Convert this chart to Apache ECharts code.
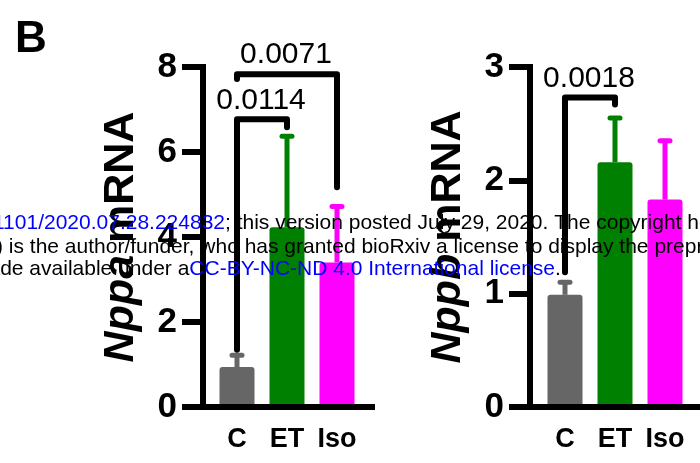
<!DOCTYPE html>
<html>
<head>
<meta charset="utf-8">
<script src="https://cdn.jsdelivr.net/npm/echarts@6/dist/echarts.min.js"></script>
<style>
  html, body { margin: 0; padding: 0; background: #fff; }
  #app { width: 700px; height: 463px; }
</style>
</head>
<body>
<div id="app"></div>
<script>
const FONT = "Liberation Sans, Arial, sans-serif";

// data
const categories = ["C", "ET", "Iso"];
const barColors = ["#666666", "#008000", "#ff00ff"];

const nppaMean = [0.94, 4.23, 3.4];
const nppaUpper = [1.22, 6.37, 4.72];
const nppbMean = [0.99, 2.16, 1.83];
const nppbUpper = [1.1, 2.55, 2.35];

// [from, to, bracket level, left leg end, right leg end, p value]
const nppaSig = [
  [0, 1, 6.77, 1.35, 6.58, "0.0114"],
  [0, 2, 7.83, 7.72, 5.17, "0.0071"],
];
const nppbSig = [[0, 1, 2.73, 1.19, 2.67, "0.0018"]];

const myChart = echarts.init(document.getElementById("app"));

const axisGrid = (left, width) => ({ left, width, top: 67, height: 340 });

const lineAxisX = (gridIndex) => ({
  gridIndex,
  type: "value",
  min: 0,
  max: 1,
  z: 5,
  axisLine: { show: true, onZero: false, lineStyle: { color: "#000", width: 6, cap: "square" } },
  axisTick: { show: false },
  axisLabel: { show: false },
  splitLine: { show: false },
});

const catAxisX = (gridIndex) => ({
  gridIndex,
  type: "category",
  data: categories,
  axisLine: { show: false },
  axisTick: { show: false },
  axisLabel: { interval: 0, hideOverlap: false, color: "#000", fontSize: 27, fontWeight: "bold", fontFamily: FONT, margin: 19 },
});

const valueAxisY = (gridIndex, max, gene) => ({
  gridIndex,
  type: "value",
  min: 0,
  max,
  interval: max > 4 ? 2 : 1,
  z: 5,
  axisLine: { show: true, lineStyle: { color: "#000", width: 6, cap: "square" } },
  axisTick: { show: true, length: 21, lineStyle: { color: "#000", width: 6 } },
  axisLabel: { color: "#000", fontSize: 35, fontWeight: "bold", fontFamily: FONT, margin: 26 },
  splitLine: { show: false },
  name: "{i|" + gene + "} mRNA",
  nameLocation: "middle",
  nameRotate: 90,
  nameGap: 60,
  nameTextStyle: {
    color: "#000",
    fontSize: 43,
    fontWeight: "bold",
    fontFamily: FONT,
    rich: { i: { fontSize: 43, fontWeight: "bold", fontStyle: "italic", fontFamily: FONT, color: "#000" } },
  },
});

const hiddenAxisY = (gridIndex, max) => ({ gridIndex, type: "value", min: 0, max, show: false });

const barSeries = (axisIndex, means) => ({
  type: "bar",
  xAxisIndex: axisIndex,
  yAxisIndex: axisIndex,
  barWidth: 35,
  itemStyle: { borderRadius: [3, 3, 0, 0] },
  data: means.map((v, i) => ({ value: v, itemStyle: { color: barColors[i] } })),
});

const errorSeries = (axisIndex, means, uppers) => ({
  type: "custom",
  xAxisIndex: axisIndex,
  yAxisIndex: axisIndex,
  z: 3,
  data: means.map((m, i) => [i, m, uppers[i]]),
  renderItem: (params, api) => {
    const i = api.value(0);
    const top = api.coord([i, api.value(1)]);
    const up = api.coord([i, api.value(2)]);
    const color = barColors[i];
    return {
      type: "group",
      children: [
        { type: "line", shape: { x1: top[0], y1: top[1], x2: up[0], y2: up[1] }, style: { stroke: color, lineWidth: 5 } },
        { type: "line", shape: { x1: up[0] - 5, y1: up[1], x2: up[0] + 5, y2: up[1] }, style: { stroke: color, lineWidth: 5, lineCap: "round" } },
      ],
    };
  },
});

const bracketSeries = (axisIndex, sig) => ({
  type: "custom",
  xAxisIndex: axisIndex,
  yAxisIndex: axisIndex,
  z: 4,
  clip: false,
  data: sig.map((s) => s.slice(0, 5)),
  renderItem: (params, api) => {
    const a = api.coord([api.value(0), api.value(3)]);
    const b = api.coord([api.value(0), api.value(2)]);
    const c = api.coord([api.value(1), api.value(2)]);
    const d = api.coord([api.value(1), api.value(4)]);
    return {
      type: "group",
      children: [
        {
          type: "polyline",
          shape: { points: [a, b, c, d] },
          style: { stroke: "#000", lineWidth: 6, fill: null, lineCap: "round", lineJoin: "round" },
        },
        {
          type: "text",
          x: (b[0] + c[0]) / 2 - 1,
          y: b[1] - 4,
          style: {
            text: sig[params.dataIndex][5],
            fontSize: 30,
            fontFamily: FONT,
            fill: "#000",
            align: "center",
            verticalAlign: "bottom",
          },
        },
      ],
    };
  },
});

const watermark = (y, x, text) => ({
  type: "text",
  x,
  y,
  z: 100,
  style: {
    text,
    fontSize: 21,
    fontFamily: FONT,
    fill: "#000",
    verticalAlign: "middle",
    rich: { b: { fill: "#0000ff", fontSize: 21, fontFamily: FONT } },
  },
});

myChart.setOption({
  animation: false,
  grid: [axisGrid(203, 169), axisGrid(212, 150), axisGrid(530, 180), axisGrid(540, 150)],
  xAxis: [lineAxisX(0), catAxisX(1), lineAxisX(2), catAxisX(3)],
  yAxis: [valueAxisY(0, 8, "Nppa"), hiddenAxisY(1, 8), valueAxisY(2, 3, "Nppb"), hiddenAxisY(3, 3)],
  series: [
    barSeries(1, nppaMean),
    errorSeries(1, nppaMean, nppaUpper),
    bracketSeries(1, nppaSig),
    barSeries(3, nppbMean),
    errorSeries(3, nppbMean, nppbUpper),
    bracketSeries(3, nppbSig),
  ],
  graphic: [
    { type: "text", x: 15, y: 18, style: { text: "B", fontSize: 44, fontWeight: "bold", fontFamily: FONT, fill: "#000" } },
    watermark(223, -7, "{b|1101/2020.07.28.224832}; this version posted July 29, 2020. The copyright holder for this preprint"),
    watermark(247, -4, ") is the author/funder, who has granted bioRxiv a license to display the preprint in perpetuity. It is made"),
    watermark(269, -29, "made available under a{b|CC-BY-NC-ND 4.0 International license}."),
  ],
});
</script>
</body>
</html>
